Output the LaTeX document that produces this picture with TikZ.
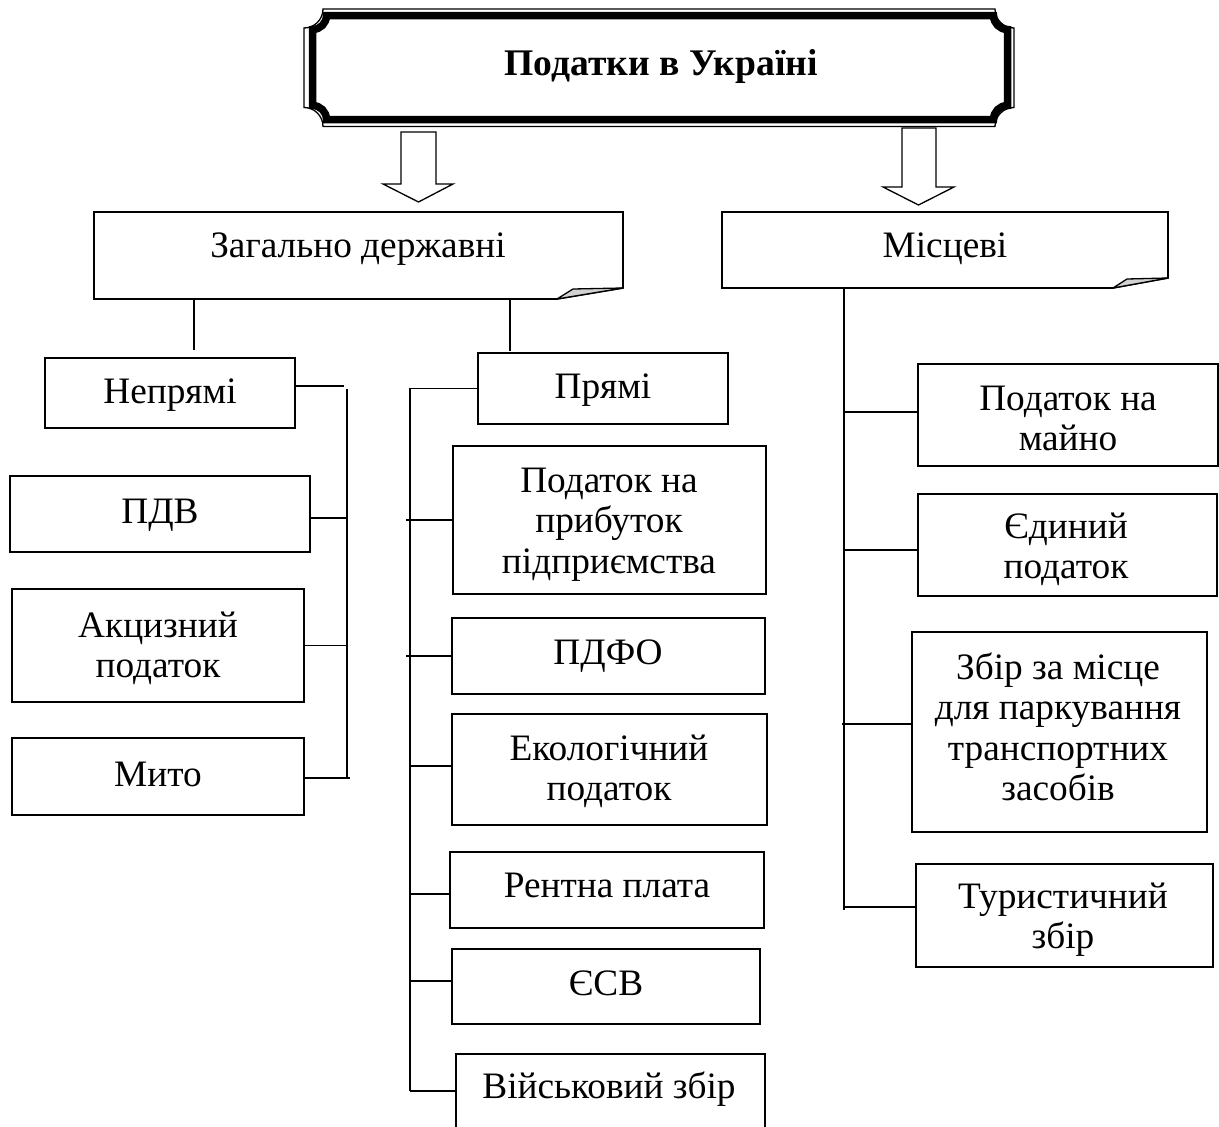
\documentclass[tikz,border=0pt]{standalone}
\usepackage{fontspec}
\setmainfont{Liberation Serif}
\newcommand\plaquepath[5]{(#1+#5,#2) -- (#3-#5,#2) arc[start angle=-180,end angle=-90,radius=#5pt] -- (#3,#4-#5) arc[start angle=-270,end angle=-180,radius=#5pt] -- (#1+#5,#4) arc[start angle=0,end angle=90,radius=#5pt] -- (#1,#2+#5) arc[start angle=-90,end angle=0,radius=#5pt] -- cycle}
\tikzset{
 box/.style={draw, line width=1.6pt, inner sep=0pt, outer sep=0pt},
 ghost/.style={inner sep=0pt, outer sep=0pt},
 wire/.style={line width=1.3pt},
 txt/.style={anchor=base, align=center, inner sep=0pt, font=\fontsize{37.3}{40.5}\selectfont},
 ttltxt/.style={anchor=base, inner sep=0pt, font=\bfseries\fontsize{37.6}{40}\selectfont},
 blockarrow/.style={draw, line width=1.3pt, fill=white, line join=miter},
 flap/.style={draw, line width=1.3pt, fill=gray!35, line join=round},
 foldbox/.style={draw, line width=1.6pt, line join=miter},
}
\begin{document}
\begin{tikzpicture}[x=1pt,y=-1pt]
\useasboundingbox (0,0) rectangle (1219,1127);
\fill[white] (0,0) rectangle (1219,1127);
\clip (0,0) rectangle (1219,1127);

% title plaque
\node[ghost, minimum width=710pt, minimum height=118pt] (title) at (659,67.5) {};
\draw[line width=1.3pt] \plaquepath{304}{9}{1014}{126.5}{19};
\draw[line width=7.5pt] \plaquepath{312.5}{15.5}{1007.5}{119.5}{14};
\node[ttltxt] (ttl) at (661,75) {Податки в Україні};

% block arrows
\draw[blockarrow] (401,132) -- (436,132) -- (436,184) -- (453,184) -- (418.5,202) -- (383,184) -- (401,184) -- cycle;
\draw[blockarrow] (902,128) -- (936,128) -- (936,187) -- (954,187) -- (918.5,205) -- (883,187) -- (902,187) -- cycle;

% folded boxes
\node[ghost, minimum width=529pt, minimum height=87pt] (zag) at (358.5,255.5) {};
\draw[foldbox] (zag.north west) -- (zag.north east) -- ([yshift=11pt]zag.south east) -- ([xshift=-66pt]zag.south east) -- (zag.south west) -- cycle;
\draw[flap] ([xshift=-66pt]zag.south east) -- ([xshift=-50pt,yshift=10pt]zag.south east) -- ([yshift=11pt]zag.south east) -- cycle;
\node[txt] (tzag) at (358,257) {Загально державні};

\node[ghost, minimum width=446pt, minimum height=76pt] (mis) at (945,250) {};
\draw[foldbox] (mis.north west) -- (mis.north east) -- ([yshift=10pt]mis.south east) -- ([xshift=-55pt]mis.south east) -- (mis.south west) -- cycle;
\draw[flap] ([xshift=-55pt]mis.south east) -- ([xshift=-41pt,yshift=9pt]mis.south east) -- ([yshift=10pt]mis.south east) -- cycle;
\node[txt] (tmis) at (945,257) {Місцеві};

% left column
\node[box, minimum width=250pt, minimum height=70pt] (nepr) at (170,393) {};
\node[txt] (tnepr) at (170,403) {Непрямі};
\node[box, minimum width=300pt, minimum height=76pt] (pdv) at (160,514) {};
\node[txt] (tpdv) at (160,523) {ПДВ};
\node[box, minimum width=292pt, minimum height=113pt] (akc) at (158,645.5) {};
\node[txt] (takc) at (158,677.5) {Акцизний\\податок};
\node[box, minimum width=292pt, minimum height=77pt] (myto) at (158,776.5) {};
\node[txt] (tmyto) at (158,786) {Мито};

% middle column
\node[box, minimum width=250pt, minimum height=71pt] (pryami) at (603,388.5) {};
\node[txt] (tpr) at (603,398) {Прямі};
\node[box, minimum width=313pt, minimum height=148pt] (prib) at (609.5,520) {};
\node[txt] (tprib) at (609,573) {Податок на\\прибуток\\підприємства};
\node[box, minimum width=313pt, minimum height=76pt] (pdfo) at (608.5,656) {};
\node[txt] (tpdfo) at (608,664) {ПДФО};
\node[box, minimum width=315pt, minimum height=111pt] (eko) at (609.5,769.5) {};
\node[txt] (teko) at (609,800.5) {Екологічний\\податок};
\node[box, minimum width=314pt, minimum height=76pt] (rent) at (607,890) {};
\node[txt] (trent) at (607,897) {Рентна плата};
\node[box, minimum width=308pt, minimum height=75pt] (esv) at (606,986.5) {};
\node[txt] (tesv) at (606,995) {ЄСВ};
\node[box, minimum width=309pt, minimum height=86pt] (viy) at (610.5,1097) {};
\node[txt] (tviy) at (609,1098) {Військовий збір};

% right column
\node[box, minimum width=300pt, minimum height=102pt] (mayno) at (1068,415) {};
\node[txt] (tmayno) at (1068,450.5) {Податок на\\майно};
\node[box, minimum width=299pt, minimum height=102pt] (yed) at (1067.5,545) {};
\node[txt] (tyed) at (1066,578.5) {Єдиний\\податок};
\node[box, minimum width=295pt, minimum height=200pt] (zbir) at (1059.5,732) {};
\node[txt] (tzbir) at (1058,800.5) {Збір за місце\\для паркування\\транспортних\\засобів};
\node[box, minimum width=297pt, minimum height=103pt] (tur) at (1064.5,915.5) {};
\node[txt] (ttur) at (1063,948.5) {Туристичний\\збір};

% connectors: Загально державні
\draw[wire] ([xshift=-164.5pt]zag.south) -- ++(0,51);
\draw[wire] ([xshift=151.5pt]zag.south) -- ++(0,52);
% indirect taxes
\draw[wire] ([yshift=7pt]nepr.east) -- ++(49,0);
\coordinate (nb1) at (347,389);
\coordinate (nb2) at (347,778);
\draw[wire] (nb1) -- (nb2);
\draw[wire] ([yshift=-4pt]pdv.east) -- ++(37,0);
\draw[wire] (akc.east) -- ++(43,0);
\draw[wire] ([yshift=-1.5pt]myto.east) -- ++(46,0);
% direct taxes
\coordinate (pb1) at (410,388.5);
\coordinate (pb2) at (410,1091);
\draw[wire] (pryami.west) -- (pb1) -- (pb2);
\draw[wire] (prib.west) -- ++(-47,0);
\draw[wire] (pdfo.west) -- ++(-46,0);
\draw[wire] ([yshift=3.5pt]eko.west) -- ++(-42,0);
\draw[wire] ([yshift=-4pt]rent.west) -- ++(-40,0);
\draw[wire] ([yshift=5.5pt]esv.west) -- ++(-42,0);
\draw[wire] ([yshift=6pt]viy.west) -- ++(-46,0);
% local taxes
\draw[wire] ([xshift=-101pt]mis.south) -- ++(0,622);
\draw[wire] ([yshift=3pt]mayno.west) -- ++(-74,0);
\draw[wire] ([yshift=-5pt]yed.west) -- ++(-74,0);
\draw[wire] ([yshift=8pt]zbir.west) -- ++(-70,0);
\draw[wire] ([yshift=8.5pt]tur.west) -- ++(-72,0);
\end{tikzpicture}
\end{document}
